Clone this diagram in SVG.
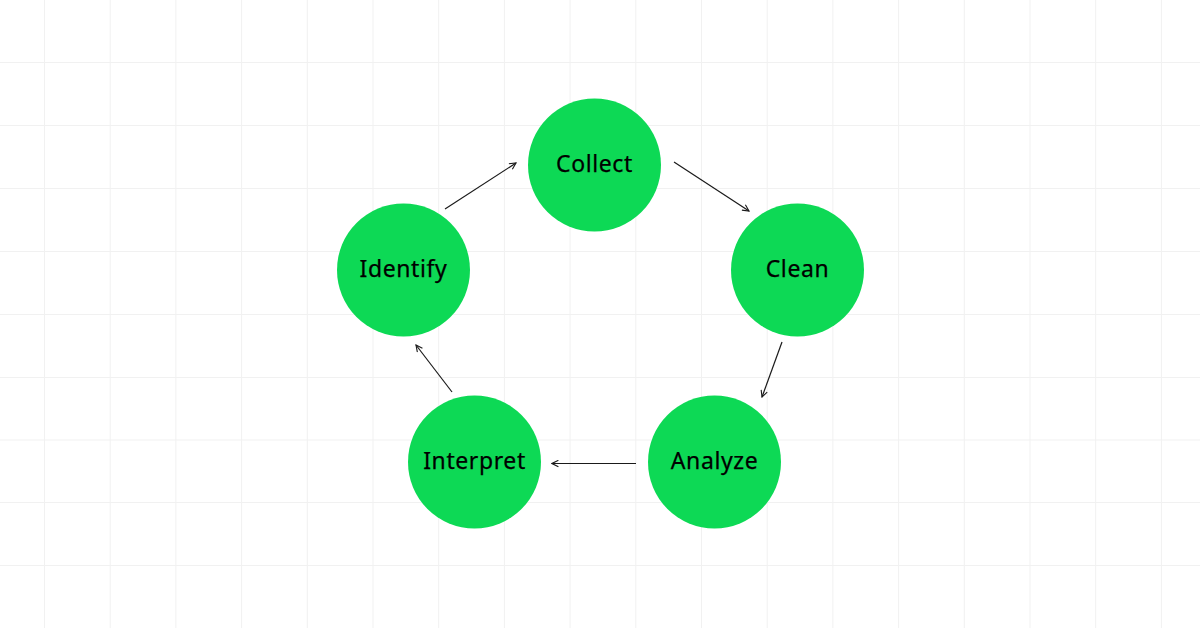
<svg xmlns="http://www.w3.org/2000/svg" width="1200" height="628" viewBox="0 0 1200 628">
<style>
.grid line{stroke:#f1f1f1;stroke-width:1}
.node circle{fill:#0DD955}
.node text{font-family:"Noto Sans","Liberation Sans",sans-serif;font-weight:400;font-size:23px;letter-spacing:0.6px;fill:#000;text-anchor:middle;stroke:#000;stroke-width:0.25}
.conn line{stroke:#1a1a1a;stroke-width:1.2;fill:none;marker-end:url(#arr)}
</style>
<defs>
<marker id="arr" viewBox="0 0 10 10" refX="9" refY="5" markerWidth="8" markerHeight="8" markerUnits="userSpaceOnUse" orient="auto">
<path d="M1,1 L9,5 L1,9" fill="none" stroke="#1a1a1a" stroke-width="1.4"/>
</marker>
</defs>
<rect width="1200" height="628" fill="#ffffff"/>
<g class="grid">
<line x1="44.5" y1="0" x2="44.5" y2="628"/>
<line x1="110.2" y1="0" x2="110.2" y2="628"/>
<line x1="175.9" y1="0" x2="175.9" y2="628"/>
<line x1="241.6" y1="0" x2="241.6" y2="628"/>
<line x1="307.3" y1="0" x2="307.3" y2="628"/>
<line x1="373" y1="0" x2="373" y2="628"/>
<line x1="438.7" y1="0" x2="438.7" y2="628"/>
<line x1="504.4" y1="0" x2="504.4" y2="628"/>
<line x1="570.1" y1="0" x2="570.1" y2="628"/>
<line x1="635.8" y1="0" x2="635.8" y2="628"/>
<line x1="701.5" y1="0" x2="701.5" y2="628"/>
<line x1="767.2" y1="0" x2="767.2" y2="628"/>
<line x1="832.9" y1="0" x2="832.9" y2="628"/>
<line x1="898.6" y1="0" x2="898.6" y2="628"/>
<line x1="964.3" y1="0" x2="964.3" y2="628"/>
<line x1="1030" y1="0" x2="1030" y2="628"/>
<line x1="1095.7" y1="0" x2="1095.7" y2="628"/>
<line x1="1161.4" y1="0" x2="1161.4" y2="628"/>
<line x1="0" y1="62.5" x2="1200" y2="62.5"/>
<line x1="0" y1="125.5" x2="1200" y2="125.5"/>
<line x1="0" y1="188.5" x2="1200" y2="188.5"/>
<line x1="0" y1="251.5" x2="1200" y2="251.5"/>
<line x1="0" y1="314.5" x2="1200" y2="314.5"/>
<line x1="0" y1="377.5" x2="1200" y2="377.5"/>
<line x1="0" y1="440" x2="1200" y2="440"/>
<line x1="0" y1="502.5" x2="1200" y2="502.5"/>
<line x1="0" y1="565.5" x2="1200" y2="565.5"/>
</g>
<g class="conn">
<line x1="445" y1="209" x2="516" y2="163"/>
<line x1="674" y1="162" x2="749" y2="211"/>
<line x1="782" y1="342" x2="762" y2="397"/>
<line x1="636" y1="463.5" x2="552" y2="463.5"/>
<line x1="452" y1="392" x2="416" y2="345"/>
</g>
<g id="collect" class="node"><circle cx="594.5" cy="165" r="66.5"/><text x="594.5" y="171.5">Collect</text></g>
<g id="clean" class="node"><circle cx="797.5" cy="270" r="66.5"/><text x="797.5" y="276.5">Clean</text></g>
<g id="analyze" class="node"><circle cx="714.5" cy="462" r="66.5"/><text x="714.5" y="468.5">Analyze</text></g>
<g id="interpret" class="node"><circle cx="474.5" cy="462" r="66.5"/><text x="474.5" y="468.5">Interpret</text></g>
<g id="identify" class="node"><circle cx="403.5" cy="270" r="66.5"/><text x="403.5" y="276.5">Identify</text></g>
</svg>
